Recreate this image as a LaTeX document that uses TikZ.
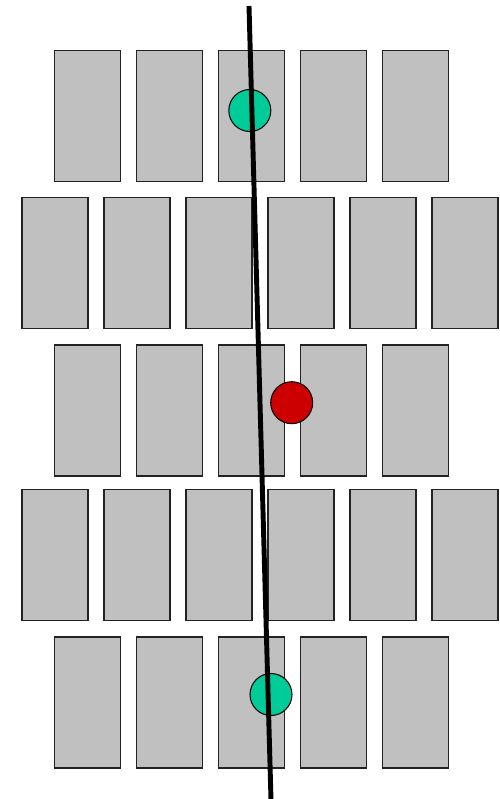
\documentclass[tikz,border=0pt]{standalone}
\usepackage{tikz}
\usetikzlibrary{positioning}
\definecolor{cellfill}{RGB}{192,192,192}
\definecolor{cellbdr}{RGB}{35,35,35}
\definecolor{okgreen}{RGB}{0,204,153}
\definecolor{badred}{RGB}{204,0,0}
\tikzset{
  %% grey cell block
  cell/.style={rectangle,draw=cellbdr,fill=cellfill,line width=0.6pt,
    minimum width=1.32cm,minimum height=2.62cm,inner sep=0pt},
  %% marker circle
  mkr/.style={circle,draw=black,fill=#1,line width=0.6pt,
    minimum size=0.84cm,inner sep=0pt},
  %% thick line
  fitln/.style={line width=2.8pt,color=black},
}
\begin{document}
\begin{tikzpicture}[x=0.02cm,y=-0.02cm]
  \useasboundingbox (0,0) rectangle (500,799);
  %% rows of five
  \foreach \r/\yc in {1/115.8,3/410.5,5/702.5}{
    \foreach \c in {1,...,5}{
      \node[cell] (c\r\c) at ({5.8+82*\c},\yc) {};
    }
  }
  %% rows of six
  \foreach \r/\yc in {2/263.2,4/554.8}{
    \foreach \c in {1,...,6}{
      \node[cell] (c\r\c) at ({-27+82*\c},\yc) {};
    }
  }
  %% markers
  \node[mkr=okgreen] (gtop) at (249.8,110.5) {};
  \node[mkr=badred] (rmid) at (291.7,402.7) {};
  \node[mkr=okgreen] (gbot) at (271,694.5) {};
  %% line
  \coordinate (lntop) at (249,6);
  \coordinate (lnbot) at (271,800);
  \draw[fitln] (lntop) -- (lnbot);
\end{tikzpicture}
\end{document}
